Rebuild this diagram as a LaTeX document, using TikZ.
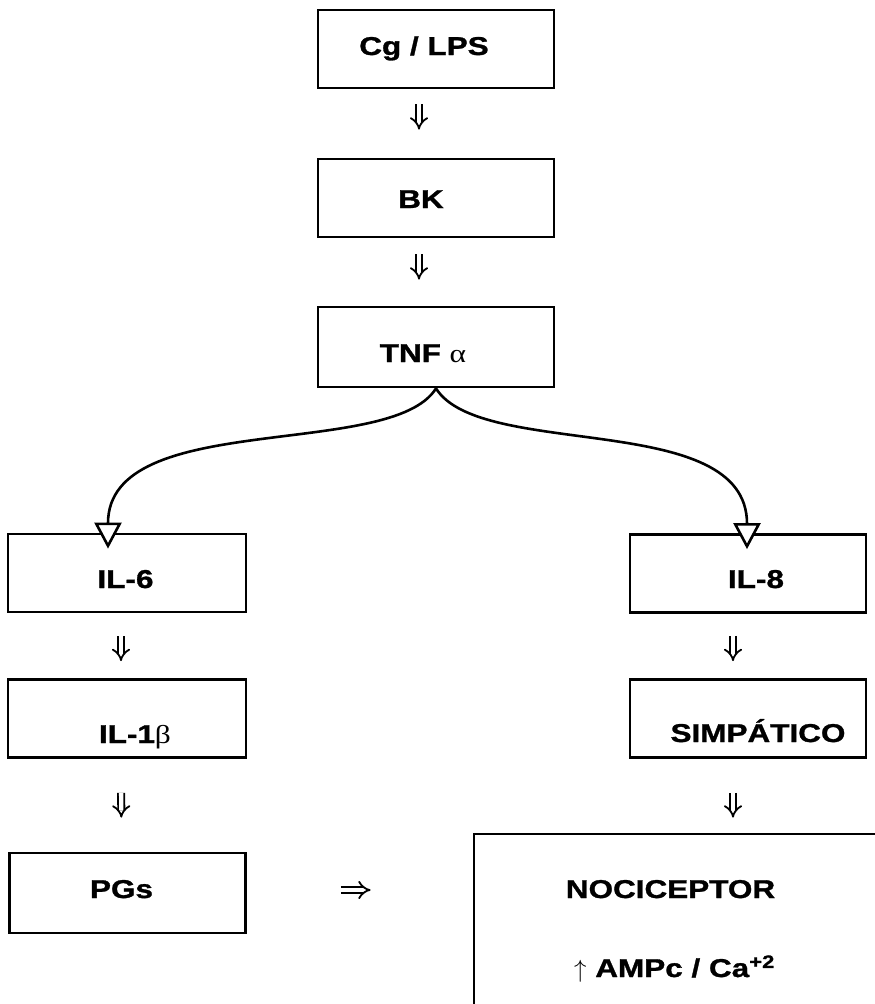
\documentclass[tikz,border=0pt]{standalone}
\usepackage{fontspec}
\setmainfont{Liberation Sans}[FakeStretch=1.22,BoldFeatures={FakeBold=1.2}]
\newfontfamily\greekfont{Liberation Serif}[FakeStretch=1.22]
\usetikzlibrary{arrows.meta}

\begin{document}
\begin{tikzpicture}[x=1pt,y=-1pt,
  box/.style={draw,line width=2.8pt,minimum width=236pt,minimum height=78pt,inner sep=0pt},
  lbl/.style={anchor=base,inner sep=0pt,font=\fontsize{25.8}{30}\selectfont\bfseries},
  dn/.style={double,double distance=4.4pt,line width=1.8pt,-{Implies}},
  branch/.style={line width=2.6pt,-{Triangle[length=26pt,width=27pt,fill=white]}}]
  \useasboundingbox (0,0) rectangle (875,1004);
  \clip (0,0) rectangle (875,1004);
  % middle column
  \node[box] (cg) at (436,49) {};
  \node[box] (bk) at (436,198) {};
  \node[box,minimum height=80pt] (tnf) at (436,347) {};
  % left column
  \node[box,minimum width=238pt] (il6) at (127,573) {};
  \node[box,minimum width=238pt] (il1) at (127,718.5) {};
  \node[box,minimum height=80pt] (pgs) at (127.5,893) {};
  % right column
  \node[box] (il8) at (748,573.5) {};
  \node[box] (simp) at (748,718.5) {};
  \node[box,minimum width=426pt,minimum height=196pt] (noci) at (687,932) {};
  % texts
  \node[lbl] (cg-txt) at (424,55) {Cg / LPS};
  \node[lbl] (bk-txt) at (421,208) {BK};
  \node[lbl] (tnf-txt) at (423,362) {TNF {\greekfont\mdseries α}};
  \node[lbl] (il6-txt) at (125.5,588) {IL-6};
  \node[lbl] (il1-txt) at (135,743) {IL-1{\greekfont\mdseries β}};
  \node[lbl] (pgs-txt) at (121.5,898) {PGs};
  \node[lbl] (il8-txt) at (756,588) {IL-8};
  \node[lbl] (simp-txt) at (758,742) {SIMPÁTICO};
  \node[lbl] (noci-txt) at (670.5,898) {NOCICEPTOR};
  \node[lbl] (ampc-txt) at (674.5,977) {{\mdseries$\uparrow$} AMPc / Ca\textsuperscript{+2}};
  % arrows
  \draw[dn,shorten <=15pt,shorten >=28pt] ([xshift=-17pt]cg.south) -- ([xshift=-17pt]bk.north);
  \draw[dn,shorten <=16pt,shorten >=26pt] ([xshift=-17pt]bk.south) -- ([xshift=-17pt]tnf.north);
  \draw[branch] (tnf.south) .. controls +(-45,72) and +(0,-140) .. ([xshift=-19pt,yshift=-16pt]il6.north);
  \draw[branch] (tnf.south) .. controls +(45,72) and +(0,-140) .. ([xshift=-1pt,yshift=-16pt]il8.north);
  \draw[dn,shorten <=23pt,shorten >=17pt] ([xshift=-6pt]il6.south) -- ([xshift=-6pt]il1.north);
  \draw[dn,shorten <=34pt,shorten >=34pt] ([xshift=-6pt]il1.south) -- ([xshift=-6pt]pgs.north);
  \draw[dn,shorten <=22pt,shorten >=17pt] ([xshift=-15pt]il8.south) -- ([xshift=-15pt]simp.north);
  \draw[dn,shorten <=34pt,shorten >=15pt] ([xshift=-15pt]simp.south) -- ([xshift=-15pt]simp.south |- noci.north);
  \draw[dn,shorten <=94pt,shorten >=102pt] ([yshift=3pt]pgs.east) -- ([yshift=3pt]pgs.east -| noci.west);
\end{tikzpicture}
\end{document}
